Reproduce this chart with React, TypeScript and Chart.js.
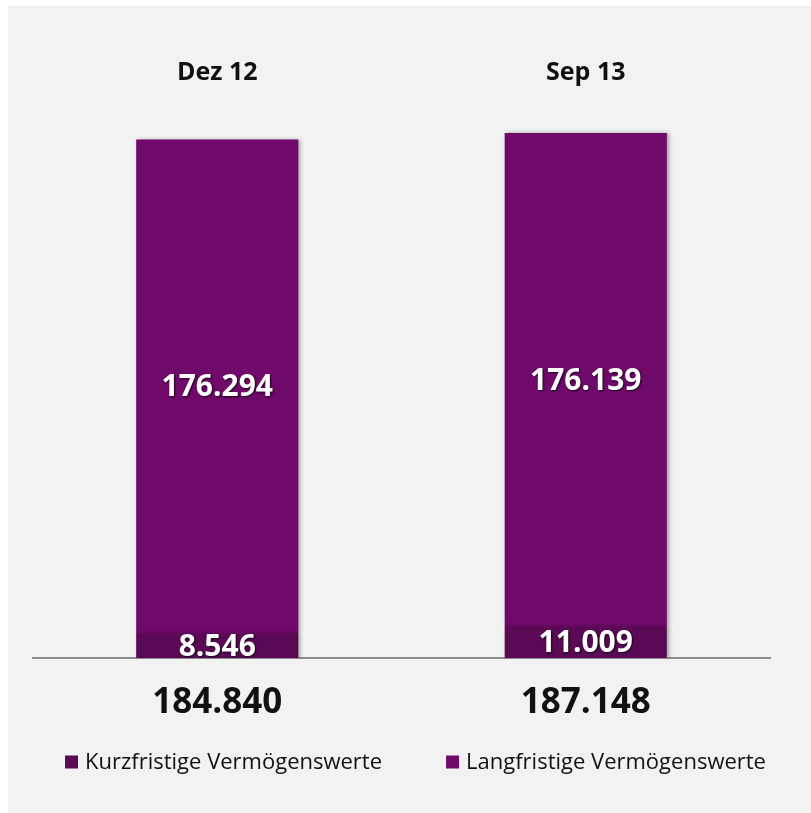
import React, { useEffect, useRef } from 'react';
import { Chart, registerables } from 'chart.js';

Chart.register(...registerables);

const categories = ['Dez 12', 'Sep 13'];
const seriesNames = ['Kurzfristige Vermögenswerte', 'Langfristige Vermögenswerte'];
const seriesColors = ['#5a0a55', '#6f0a6a'];
const kurzfristig = [8546, 11009];
const langfristig = [176294, 176139];
const totals = categories.map((_, i) => kurzfristig[i] + langfristig[i]);

const FONT = '"Open Sans", "DejaVu Sans", sans-serif';
const fmt = (v: number) => Math.round(v).toString().replace(/\B(?=(\d{3})+(?!\d))/g, '.');

const barDecor = {
  id: 'barDecor',
  beforeDatasetsDraw(chart: any) {
    const ctx = chart.ctx;
    ctx.save();
    ctx.shadowColor = 'rgba(0,0,0,0.35)';
    ctx.shadowBlur = 4;
    ctx.shadowOffsetX = 2;
    ctx.shadowOffsetY = 0;
  },
  afterDatasetsDraw(chart: any) {
    const ctx = chart.ctx;
    ctx.restore();
    ctx.save();
    ctx.font = `bold 30px ${FONT}`;
    ctx.textAlign = 'center';
    ctx.textBaseline = 'middle';
    ctx.fillStyle = '#ffffff';
    ctx.shadowColor = 'rgba(0,0,0,0.75)';
    ctx.shadowBlur = 2;
    ctx.shadowOffsetX = 1;
    ctx.shadowOffsetY = 1;
    chart.data.datasets.forEach((ds: any, di: number) => {
      const meta = chart.getDatasetMeta(di);
      meta.data.forEach((el: any, i: number) => {
        const { x, y, base } = el.getProps(['x', 'y', 'base'], true);
        ctx.fillText(fmt(ds.data[i]), x, (y + base) / 2 + 1);
      });
    });
    ctx.restore();
  },
};

// Legend drawn from the chart's own dataset labels and colours
const customLegend = {
  id: 'customLegend',
  afterDraw(chart: any) {
    const ctx = chart.ctx;
    ctx.save();
    ctx.font = `22px ${FONT}`;
    ctx.textBaseline = 'middle';
    ctx.textAlign = 'left';
    const box = 13;
    const gapBoxText = 7;
    const gapItems = 64;
    const items = chart.data.datasets.map((ds: any) => ({
      text: ds.label,
      color: ds.backgroundColor,
      w: box + gapBoxText + ctx.measureText(ds.label).width,
    }));
    const total = items.reduce((a: number, it: any) => a + it.w, 0) + gapItems * (items.length - 1);
    const cx = chart.width / 2 + 6;
    const cy = chart.height - 51;
    let x = cx - total / 2;
    items.forEach((it: any) => {
      ctx.fillStyle = it.color;
      ctx.fillRect(x, cy - box / 2, box, box);
      ctx.fillStyle = '#111111';
      ctx.fillText(it.text, x + box + gapBoxText, cy + 1);
      x += it.w + gapItems;
    });
    ctx.restore();
  },
};

export default function App() {
  const ref = useRef<HTMLCanvasElement | null>(null);
  useEffect(() => {
    if (!ref.current) return;
    const chart = new Chart(ref.current, {
      type: 'bar',
      data: {
        labels: categories,
        datasets: [
          {
            label: seriesNames[0],
            data: kurzfristig,
            backgroundColor: seriesColors[0],
            borderWidth: 0,
            barPercentage: 0.44,
            categoryPercentage: 1,
          },
          {
            label: seriesNames[1],
            data: langfristig,
            backgroundColor: seriesColors[1],
            borderWidth: 0,
            barPercentage: 0.44,
            categoryPercentage: 1,
          },
        ],
      },
      options: {
        responsive: false,
        animation: false,
        layout: { padding: { left: 25, right: 41, top: 0, bottom: 71 } },
        plugins: {
          tooltip: { enabled: false },
          legend: { display: false },
        },
        scales: {
          x: {
            stacked: true,
            grid: { display: false, drawTicks: false },
            border: { display: true, color: '#8c8c8c', width: 2 },
            ticks: {
              color: '#111111',
              padding: 24,
              font: { family: FONT, size: 35, weight: 'bold' },
              callback: (_v: any, i: number) => fmt(totals[i]),
            },
            afterFit: (s: any) => {
              s.height = 84;
            },
          },
          x2: {
            type: 'category',
            position: 'top',
            labels: categories,
            offset: true,
            grid: { display: false, drawTicks: false },
            border: { display: false },
            ticks: {
              color: '#111111',
              padding: 9,
              font: { family: FONT, size: 25, weight: 'bold' },
            },
            afterFit: (s: any) => {
              s.height = 91;
            },
          },
          y: {
            stacked: true,
            display: false,
            min: 0,
            max: 200000,
          },
        },
      },
      plugins: [barDecor, customLegend],
    } as any);
    return () => chart.destroy();
  }, []);
  return (
    <div
      style={{
        position: 'absolute',
        left: 8,
        top: 6,
        width: 803,
        height: 807,
        background: '#f2f2f2',
      }}
    >
      <canvas ref={ref} width={803} height={807} style={{ display: 'block' }} />
    </div>
  );
}
